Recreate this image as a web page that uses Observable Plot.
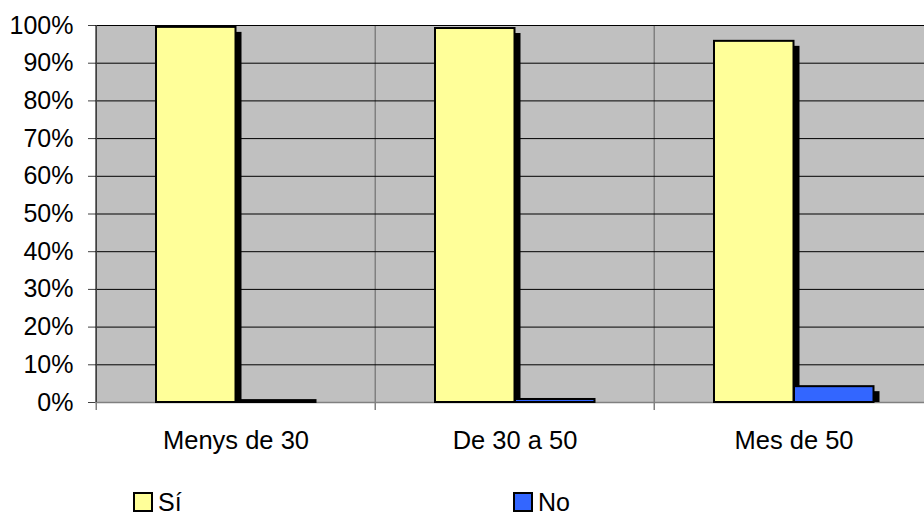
<!DOCTYPE html>
<html><head><meta charset="utf-8">
<script src="https://cdn.jsdelivr.net/npm/d3@7"></script>
<script src="https://cdn.jsdelivr.net/npm/@observablehq/plot@0.6"></script>
<style>
body{margin:0;background:#fff;font-family:"Liberation Sans",Arial,sans-serif;}
#wrap{position:relative;width:924px;height:516px;overflow:hidden;}
#chart svg{display:block;}
.leg{position:absolute;top:488px;font-size:25px;line-height:28px;display:flex;align-items:center;color:#000;}
.sw{width:16px;height:16px;border:2px solid #000;margin-right:5px;}
</style></head><body><div id="wrap"><div id="chart"></div></div>
<script>
const categories = ["Menys de 30", "De 30 a 50", "Mes de 50"];
const series = ["Sí", "No"];
const siValues = [99.5, 99.2, 95.8];
const noValues = [0.5, 0.8, 4.2];
const yTicks = [0, 10, 20, 30, 40, 50, 60, 70, 80, 90, 100];
const colors = ["#FFFF99", "#3366FF"];

const siRows = categories.map((c, i) => ({category: c, series: series[0], value: siValues[i]}));
const noRows = categories.map((c, i) => ({category: c, series: series[1], value: noValues[i]}));

const W = 924, H = 470, ML = 95, MT = 25, MB = 68;
const bandRight = 933.5;
const half = (bandRight - ML) / categories.length / 2;

const barStyle = {stroke: "#000", strokeWidth: 2};

const chart = Plot.plot({
  width: W,
  height: H,
  marginLeft: ML,
  marginRight: 0,
  marginTop: MT,
  marginBottom: MB,
  style: {fontFamily: "'Liberation Sans', Arial, sans-serif", background: "#fff", color: "#000", overflow: "visible"},
  x: {type: "band", domain: categories, range: [ML, bandRight], padding: 0, label: null},
  y: {domain: [0, 100], label: null},
  color: {domain: series, range: colors},
  marks: [
    Plot.frame({fill: "#c0c0c0", stroke: null}),
    Plot.ruleX(categories, {x: d => d, dx: -half, y1: 100, y2: 0, insetBottom: -8, stroke: "#808080", strokeWidth: 1.5}),
    Plot.ruleY(yTicks, {stroke: "#000", strokeWidth: 1}),
    Plot.ruleY([0], {stroke: "#808080", strokeWidth: 1.5}),
    // shadows
    Plot.barY(siRows, {x: "category", y: "value", fill: "#000", insetLeft: 66, insetRight: half * 2 - 146, dy: 5, insetBottom: 5}),
    Plot.barY(noRows, {x: "category", y: "value", fill: "#000", insetLeft: 146, insetRight: half * 2 - 226, dy: 5, insetBottom: 5}),
    // bars
    Plot.barY(siRows, {x: "category", y: "value", fill: "series", insetLeft: 60, insetRight: half * 2 - 140, ...barStyle}),
    Plot.barY(noRows, {x: "category", y: "value", fill: "series", insetLeft: 140, insetRight: half * 2 - 220, ...barStyle}),
    Plot.axisY({ticks: yTicks, tickFormat: d => d + "%", tickSize: 7, tickPadding: 15, fontSize: 25, stroke: "#404040", fill: "#000"}),
    Plot.ruleX(categories.slice(0, 1), {x: d => d, dx: -half, y1: 100, y2: 0, stroke: "#404040", strokeWidth: 1.5}),
    Plot.axisX({tickSize: 0, tickPadding: 28, fontSize: 25.5, fill: "#000"})
  ]
});
document.getElementById("chart").appendChild(chart);

const wrap = document.getElementById("wrap");
const legendLeft = [133, 513];
series.forEach((s, i) => {
  const item = document.createElement("div");
  item.className = "leg";
  item.style.left = legendLeft[i] + "px";
  const sw = document.createElement("span");
  sw.className = "sw";
  sw.style.background = colors[i];
  const t = document.createElement("span");
  t.textContent = s;
  item.appendChild(sw);
  item.appendChild(t);
  wrap.appendChild(item);
});
</script></body></html>
